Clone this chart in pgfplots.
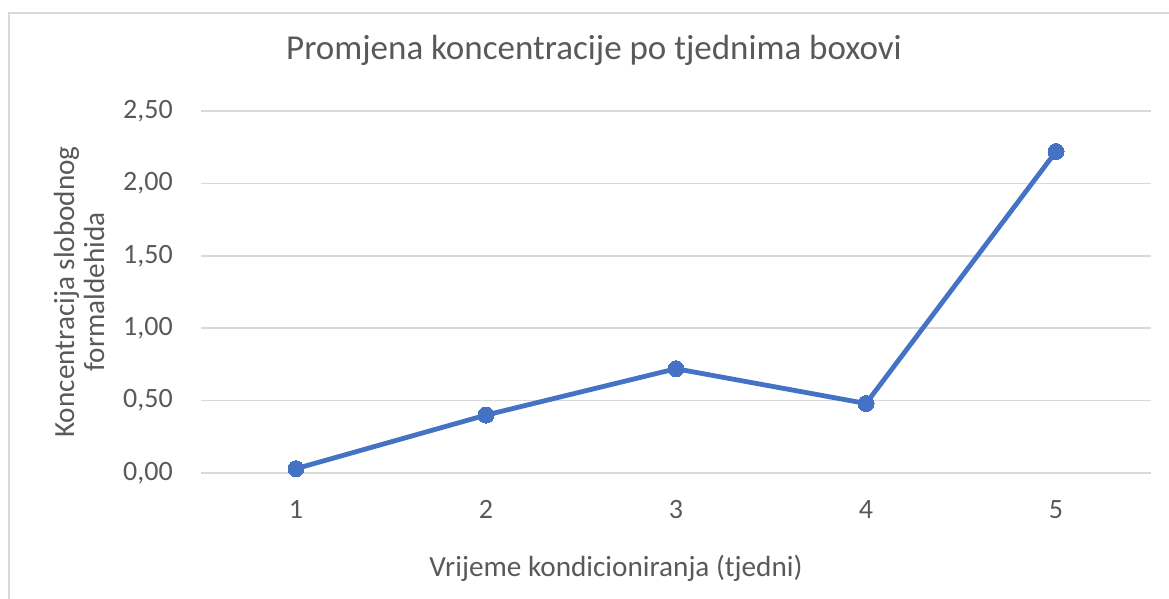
\documentclass[border=0pt]{standalone}
\usepackage{pgfplots}
\pgfplotsset{compat=1.18}
\usepackage{fontspec}
\setmainfont{Carlito}
\definecolor{txtc}{HTML}{595959}
\definecolor{gridc}{HTML}{D9D9D9}
\definecolor{seriesc}{HTML}{4472C4}
\begin{document}
\begin{tikzpicture}[x=1pt,y=1pt]
\useasboundingbox (0,0) rectangle (1169,599);
\draw[gridc, line width=1.2pt] (9,0) -- (9,586) -- (1169,586);
\begin{axis}[
  at={(201pt,126pt)}, anchor=south west,
  scale only axis, width=950pt, height=362pt,
  xmin=0.5, xmax=5.5, ymin=0, ymax=2.5,
  xtick={1,2,3,4,5},
  ytick={0,0.5,1,1.5,2,2.5},
  axis line style={draw=none},
  xmajorgrids=false, ymajorgrids=true,
  grid style={color=gridc, line width=1.5pt},
  major tick length=0pt,
  tick label style={font=\fontsize{28}{34}\selectfont, text=txtc, inner sep=0pt},
  /pgf/number format/assume math mode=true,
  yticklabel={\pgfmathprintnumber[fixed, fixed zerofill, precision=2, use comma]{\tick}},
  xticklabel shift=27pt,
  yticklabel shift=28pt,
  xticklabel style={anchor=north},
  title={Promjena koncentracije po tjednima boxovi},
  title style={at={(axis description cs:0.4137,1.1243)}, anchor=base, font=\fontsize{35}{40}\selectfont, text=txtc, inner sep=0pt},
  xlabel={Vrijeme kondicioniranja (tjedni)},
  xlabel style={at={(axis description cs:0.4368,-0.2873)}, anchor=base, font=\fontsize{29.2}{34}\selectfont, text=txtc, inner sep=0pt},
  ylabel={Koncentracija slobodnog\\formaldehida},
  ylabel style={at={(axis description cs:-0.1284,0.5)}, rotate=0, anchor=center, align=center, font=\fontsize{29.2}{30}\selectfont, text=txtc, inner sep=0pt},
  clip=false,
]
\addplot[color=seriesc, line width=4.8pt, mark=*, mark size=8pt, mark options={fill=seriesc, draw=seriesc, line width=0pt}] coordinates {
  (1,0.03) (2,0.40) (3,0.72) (4,0.48) (5,2.22)
};
\end{axis}
\end{tikzpicture}
\end{document}
